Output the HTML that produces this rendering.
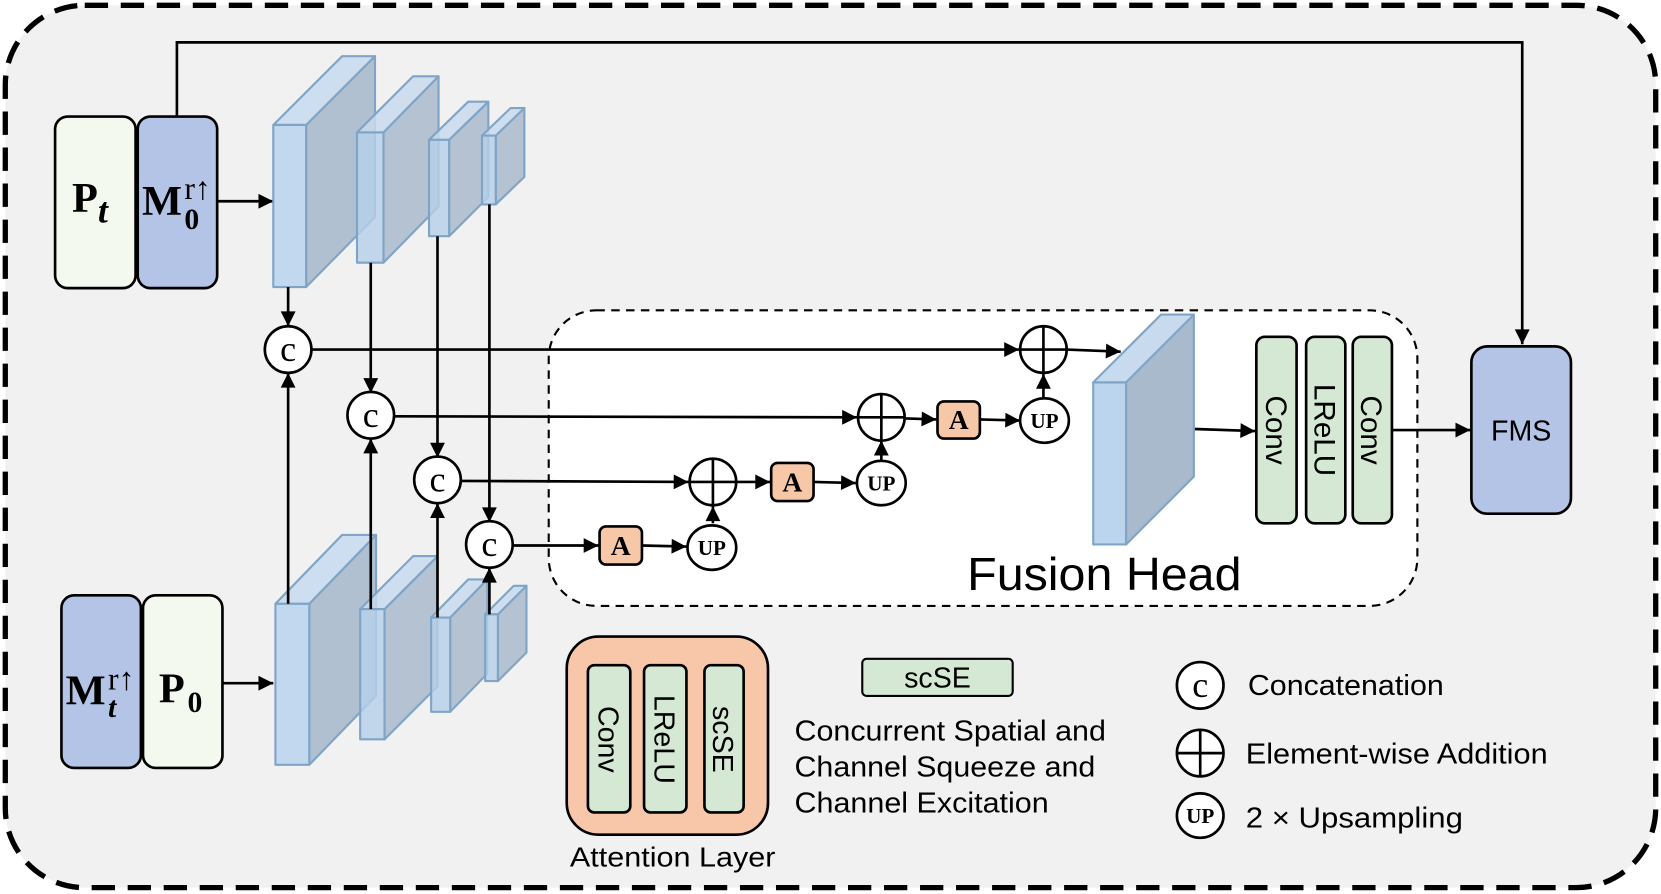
<!DOCTYPE html>
<html><head><meta charset="utf-8"><style>
html,body{margin:0;padding:0;background:#fff}
svg{display:block}
text{font-family:"Liberation Sans",sans-serif}
.s{font-family:"Liberation Serif",serif;font-weight:bold}
.n{font-family:"Liberation Serif",serif;font-weight:normal}
</style></head><body>
<svg width="1661" height="894" viewBox="0 0 1568 844" preserveAspectRatio="none" xmlns="http://www.w3.org/2000/svg">
<defs>
<marker id="ab" viewBox="0 0 10 10" refX="10" refY="5" markerWidth="16" markerHeight="14" markerUnits="userSpaceOnUse" orient="auto"><path d="M0,0 L10,5 L0,10 z" fill="#000"/></marker>
</defs>
<rect x="5" y="5" width="1558" height="833" rx="75" fill="#f1f1f1" stroke="#000" stroke-width="5" stroke-dasharray="22,12"/>
<polyline points="167,110 167,40 1437,40 1437,325" fill="none" stroke="#000" stroke-width="2.5" marker-end="url(#ab)"/>
<rect x="518" y="293" width="820" height="279" rx="45" fill="#fff" stroke="#000" stroke-width="2" stroke-dasharray="8,6"/>
<rect x="52" y="110" width="76" height="162" rx="12" fill="#f3f9ee" stroke="#000" stroke-width="2.5"/>
<rect x="130" y="110" width="75" height="162" rx="12" fill="#b4c4e7" stroke="#000" stroke-width="2.5"/>
<text x="68" y="200" class="s" font-size="40">P<tspan font-style="italic" font-size="34" dy="10">t</tspan></text>
<text x="134" y="203" class="s" font-size="40">M</text><text x="174" y="188" class="n" font-size="30">r↑</text><text x="174" y="216" class="s" font-size="28">0</text>
<line x1="205" y1="190" x2="258" y2="190" stroke="#000" stroke-width="2.5" marker-end="url(#ab)"/>
<rect x="58" y="562" width="75" height="163" rx="12" fill="#b4c4e7" stroke="#000" stroke-width="2.5"/>
<rect x="135" y="562" width="75" height="163" rx="12" fill="#f3f9ee" stroke="#000" stroke-width="2.5"/>
<text x="62" y="665" class="s" font-size="40">M</text><text x="102" y="651" class="n" font-size="30">r↑</text><text x="102" y="677" class="s" font-size="28" font-style="italic">t</text>
<text x="150" y="663" class="s" font-size="40">P</text><text x="177" y="672" class="s" font-size="28">0</text>
<line x1="210" y1="645" x2="258" y2="645" stroke="#000" stroke-width="2.5" marker-end="url(#ab)"/>
<g stroke="#7fa4c6" stroke-width="2" stroke-linejoin="round">
<g><polygon points="289,118 354,53 354,205 289,271" fill="#a9bacd" fill-opacity=".9"/><polygon points="258,118 323,53 354,53 289,118" fill="#c8dbee" fill-opacity=".9"/><rect x="258" y="118" width="31" height="153" fill="#bcd5ee" fill-opacity=".9"/></g>
<g><polygon points="362,125 414,72 414,195 362,248" fill="#a9bacd" fill-opacity=".85"/><polygon points="337,125 390,72 414,72 362,125" fill="#c8dbee" fill-opacity=".85"/><rect x="337" y="125" width="25" height="123" fill="#b6cfea" fill-opacity=".8"/></g>
<g><polygon points="424,132 461,96 461,186 424,223" fill="#a9bacd" fill-opacity=".85"/><polygon points="405,132 442,96 461,96 424,132" fill="#c8dbee" fill-opacity=".85"/><rect x="405" y="132" width="19" height="91" fill="#b6cfea" fill-opacity=".8"/></g>
<g><polygon points="468,128 495,102 495,167 468,193" fill="#a9bacd" fill-opacity=".85"/><polygon points="455,128 482,102 495,102 468,128" fill="#c8dbee" fill-opacity=".85"/><rect x="455" y="128" width="13" height="65" fill="#b6cfea" fill-opacity=".8"/></g>
<g><polygon points="292,570 355,505 355,657 292,722" fill="#a9bacd" fill-opacity=".9"/><polygon points="260,570 323,505 355,505 292,570" fill="#c8dbee" fill-opacity=".9"/><rect x="260" y="570" width="32" height="152" fill="#bcd5ee" fill-opacity=".9"/></g>
<g><polygon points="363,575 413,525 413,648 363,698" fill="#a9bacd" fill-opacity=".85"/><polygon points="340,575 390,525 413,525 363,575" fill="#c8dbee" fill-opacity=".85"/><rect x="340" y="575" width="23" height="123" fill="#b6cfea" fill-opacity=".8"/></g>
<g><polygon points="425,583 460,547 460,636 425,672" fill="#a9bacd" fill-opacity=".85"/><polygon points="407,583 442,547 460,547 425,583" fill="#c8dbee" fill-opacity=".85"/><rect x="407" y="583" width="18" height="89" fill="#b6cfea" fill-opacity=".8"/></g>
<g><polygon points="470,580 497,553 497,616 470,643" fill="#a9bacd" fill-opacity=".85"/><polygon points="458,580 485,553 497,553 470,580" fill="#c8dbee" fill-opacity=".85"/><rect x="458" y="580" width="12" height="63" fill="#b6cfea" fill-opacity=".8"/></g>
<g><polygon points="1063,361 1127,297 1127,450 1063,514" fill="#a9bacd"/><polygon points="1032,361 1096,297 1127,297 1063,361" fill="#c8dbee"/><rect x="1032" y="361" width="31" height="153" fill="#bcd5ee"/></g>
</g>
<g stroke="#000" stroke-width="2.5" fill="none" marker-end="url(#ab)">
<line x1="272" y1="271" x2="272" y2="308"/>
<line x1="272" y1="570" x2="272" y2="352"/>
<line x1="350" y1="248" x2="350" y2="371"/>
<line x1="350" y1="575" x2="350" y2="414"/>
<line x1="413" y1="223" x2="413" y2="432"/>
<line x1="413" y1="583" x2="413" y2="475"/>
<line x1="462" y1="193" x2="462" y2="493"/>
<line x1="462" y1="580" x2="462" y2="536"/>
<line x1="294" y1="330" x2="962" y2="330"/>
<line x1="1007" y1="330" x2="1058" y2="332"/>
<line x1="372" y1="393" x2="809" y2="394"/>
<line x1="435" y1="454" x2="650" y2="455"/>
<line x1="484" y1="515" x2="565" y2="515"/>
<line x1="606" y1="515" x2="648" y2="516"/>
<line x1="673" y1="494" x2="673" y2="478"/>
<line x1="696" y1="455" x2="727" y2="455"/>
<line x1="768" y1="455" x2="808" y2="456"/>
<line x1="832" y1="434" x2="832" y2="416"/>
<line x1="855" y1="395" x2="884" y2="396"/>
<line x1="925" y1="396" x2="963" y2="397"/>
<line x1="985" y1="375" x2="985" y2="353"/>
<line x1="1128" y1="405" x2="1185" y2="407"/>
<line x1="1314" y1="406" x2="1388" y2="406"/>
</g>
<g fill="#fff" stroke="#000" stroke-width="2.5">
<circle cx="272" cy="330" r="22"/><circle cx="350" cy="392" r="22"/><circle cx="413" cy="453" r="22"/><circle cx="462" cy="514" r="22"/>
<circle cx="1133" cy="647" r="22"/>
</g>
<g font-size="34" text-anchor="middle">
<text x="272" y="341" class="n">c</text><text x="350" y="403" class="n">c</text><text x="413" y="464" class="n">c</text><text x="462" y="525" class="n">c</text><text x="1133" y="658" class="n">c</text>
</g>
<g fill="none" stroke="#000" stroke-width="2.5">
<circle cx="985" cy="330" r="22" fill="#fff"/><line x1="963" y1="330" x2="1007" y2="330"/><line x1="985" y1="308" x2="985" y2="352"/>
<circle cx="832" cy="394" r="22" fill="#fff"/><line x1="810" y1="394" x2="854" y2="394"/><line x1="832" y1="372" x2="832" y2="416"/>
<circle cx="673" cy="455" r="22" fill="#fff"/><line x1="651" y1="455" x2="695" y2="455"/><line x1="673" y1="433" x2="673" y2="477"/>
<circle cx="1133" cy="711" r="22" fill="#fff"/><line x1="1111" y1="711" x2="1155" y2="711"/><line x1="1133" y1="689" x2="1133" y2="733"/>
</g>
<g fill="#fff" stroke="#000" stroke-width="2.5">
<ellipse cx="672" cy="517" rx="23" ry="21"/><ellipse cx="832" cy="456" rx="23" ry="21"/><ellipse cx="986" cy="397" rx="23" ry="21"/><ellipse cx="1133" cy="770" rx="22" ry="21"/>
</g>
<g font-size="20" text-anchor="middle">
<text x="672" y="524" class="s">UP</text><text x="832" y="463" class="s">UP</text><text x="986" y="404" class="s">UP</text><text x="1133" y="777" class="s">UP</text>
</g>
<g fill="#f7c8a8" stroke="#000" stroke-width="2.5">
<rect x="566" y="497" width="40" height="36" rx="6"/><rect x="728" y="437" width="40" height="36" rx="6"/><rect x="885" y="379" width="40" height="35" rx="6"/>
</g>
<g font-size="26" text-anchor="middle">
<text x="586" y="524" class="s">A</text><text x="748" y="464" class="s">A</text><text x="905" y="405" class="s">A</text>
</g>
<g fill="#d5e8d3" stroke="#000" stroke-width="2.5">
<rect x="1186" y="318" width="38" height="176" rx="8"/><rect x="1233" y="318" width="37" height="176" rx="8"/><rect x="1277" y="318" width="37" height="176" rx="8"/>
</g>
<g font-size="28" text-anchor="middle">
<text transform="translate(1195,406) rotate(90)">Conv</text>
<text transform="translate(1241,406) rotate(90)">LReLU</text>
<text transform="translate(1285,406) rotate(90)">Conv</text>
</g>
<rect x="1389" y="327" width="94" height="158" rx="15" fill="#b4c4e7" stroke="#000" stroke-width="2.5"/>
<text x="1436" y="416" font-size="27" text-anchor="middle">FMS</text>
<text x="913" y="557" font-size="44" textLength="259" lengthAdjust="spacingAndGlyphs">Fusion Head</text>
<rect x="535" y="601" width="190" height="187" rx="30" fill="#f8c6a8" stroke="#000" stroke-width="2.5"/>
<g fill="#d5e8d3" stroke="#000" stroke-width="2.5">
<rect x="555" y="628" width="40" height="139" rx="6"/><rect x="608" y="628" width="40" height="139" rx="6"/><rect x="665" y="628" width="37" height="139" rx="6"/>
</g>
<g font-size="27" text-anchor="middle">
<text transform="translate(565,698) rotate(90)">Conv</text>
<text transform="translate(618,698) rotate(90)">LReLU</text>
<text transform="translate(673,698) rotate(90)">scSE</text>
</g>
<text x="538" y="818" font-size="26" textLength="194" lengthAdjust="spacingAndGlyphs">Attention Layer</text>
<rect x="814" y="622" width="142" height="35" rx="4" fill="#d5e8d3" stroke="#000" stroke-width="2"/>
<text x="885" y="649" font-size="27" text-anchor="middle">scSE</text>
<g font-size="27" lengthAdjust="spacingAndGlyphs">
<text x="750" y="699" textLength="294" lengthAdjust="spacingAndGlyphs">Concurrent Spatial and</text>
<text x="750" y="733" textLength="284" lengthAdjust="spacingAndGlyphs">Channel Squeeze and</text>
<text x="750" y="767" textLength="240" lengthAdjust="spacingAndGlyphs">Channel Excitation</text>
<text x="1178" y="656" textLength="185" lengthAdjust="spacingAndGlyphs">Concatenation</text>
<text x="1176" y="721" textLength="285" lengthAdjust="spacingAndGlyphs">Element-wise Addition</text>
<text x="1176" y="781" textLength="205" lengthAdjust="spacingAndGlyphs">2 × Upsampling</text>
</g>
</svg>
</body></html>
